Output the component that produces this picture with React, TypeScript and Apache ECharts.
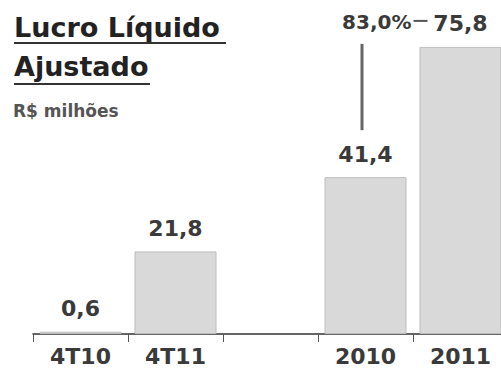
import React, { useEffect, useRef } from "react";
import * as echarts from "echarts";

// Adjusted net income, R$ millions
const categories: string[] = ["4T10", "4T11", "", "2010", "2011"];
const values: (number | null)[] = [0.6, 21.8, null, 41.4, 75.8];
const growthLabel = "83,0%";
const titleLines: string[] = ["Lucro Líquido", "Ajustado"];
const unitLabel = "R$ milhões";

const FONT = "'DejaVu Sans', sans-serif";
const fmt = (v: number) => v.toFixed(1).replace(".", ",");

export default function App() {
  const ref = useRef<HTMLDivElement>(null);

  useEffect(() => {
    if (!ref.current) return;
    const chart = echarts.init(ref.current, undefined, { renderer: "svg" });

    chart.setOption({
      animation: false,
      grid: { left: 33, top: 31, bottom: 35, width: 475 },
      xAxis: {
        type: "category",
        data: categories,
        axisLine: { lineStyle: { color: "#333", width: 1.5 } },
        axisTick: { show: true, length: 8, lineStyle: { color: "#555", width: 1 } },
        axisLabel: {
          margin: 11,
          color: "#3a3a3a",
          fontFamily: FONT,
          fontWeight: "bold",
          fontSize: 22,
        },
      },
      yAxis: {
        type: "value",
        min: 0,
        max: 80,
        show: false,
        splitLine: { show: false },
      },
      series: [
        {
          type: "bar",
          data: values,
          barWidth: 82,
          itemStyle: { color: "#d9d9d9", borderColor: "#bdbdbd", borderWidth: 1 },
          label: {
            show: true,
            position: "top",
            distance: 12,
            color: "#3a3a3a",
            fontFamily: FONT,
            fontWeight: "bold",
            fontSize: 22,
            formatter: (p: any) => fmt(p.value),
          },
        },
      ],
    });

    // Growth annotation between the two yearly bars
    const cx2010 = chart.convertToPixel({ xAxisIndex: 0 }, "2010") as number;
    const cx2011 = chart.convertToPixel({ xAxisIndex: 0 }, "2011") as number;
    const yTop2011 = chart.convertToPixel({ yAxisIndex: 0 }, values[4] as number) as number;
    const yTop2010 = chart.convertToPixel({ yAxisIndex: 0 }, values[3] as number) as number;
    const annBaseline = yTop2011 - 18;

    chart.setOption({
      graphic: [
        {
          type: "text",
          left: 14,
          top: 14,
          style: { text: titleLines[0], fill: "#222", font: `bold 27px ${FONT}` },
        },
        {
          type: "line",
          shape: { x1: 14, y1: 43, x2: 226, y2: 43 },
          style: { stroke: "#333", lineWidth: 2 },
        },
        {
          type: "text",
          left: 14,
          top: 53,
          style: { text: titleLines[1], fill: "#222", font: `bold 27px ${FONT}` },
        },
        {
          type: "line",
          shape: { x1: 14, y1: 84, x2: 150, y2: 84 },
          style: { stroke: "#333", lineWidth: 2 },
        },
        {
          type: "text",
          left: 13,
          top: 102,
          style: { text: unitLabel, fill: "#555", font: `bold 17px ${FONT}` },
        },
        {
          type: "text",
          x: cx2011 - 49,
          y: annBaseline - 6.5,
          style: {
            text: growthLabel,
            fill: "#3a3a3a",
            font: `bold 20px ${FONT}`,
            align: "right",
            verticalAlign: "middle",
          },
        },
        {
          type: "line",
          shape: { x1: cx2011 - 47, y1: annBaseline - 8, x2: cx2011 - 33, y2: annBaseline - 8 },
          style: { stroke: "#555", lineWidth: 2 },
        },
        {
          type: "line",
          shape: { x1: cx2010 - 3.5, y1: yTop2011 - 3, x2: cx2010 - 3.5, y2: yTop2010 - 47 },
          style: { stroke: "#666", lineWidth: 3 },
        },
      ],
    });

    return () => chart.dispose();
  }, []);

  return (
    <div
      style={{
        position: "fixed",
        left: 0,
        top: 0,
        width: 501,
        height: 369,
        overflow: "hidden",
        background: "#fff",
      }}
    >
      <div ref={ref} style={{ width: 520, height: 369 }} />
    </div>
  );
}
